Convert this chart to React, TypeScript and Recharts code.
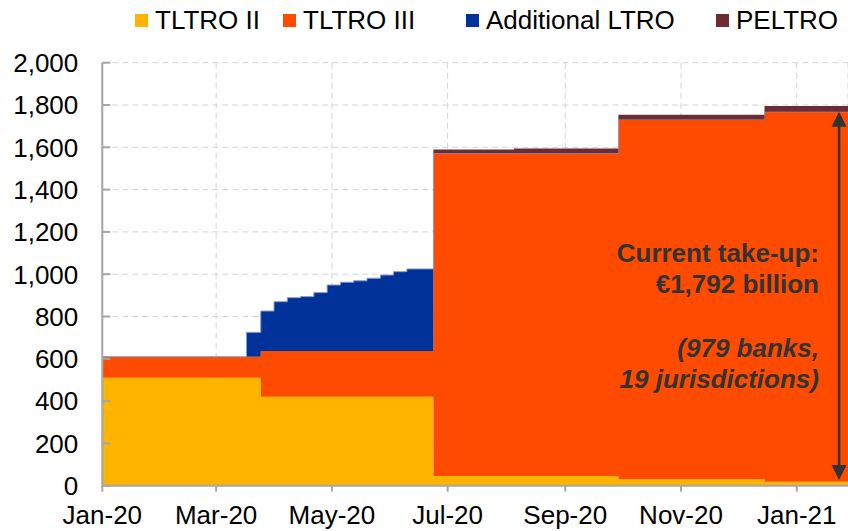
import React from 'react';
import { AreaChart, Area, XAxis, YAxis, CartesianGrid, Legend, ReferenceLine, ReferenceDot } from 'recharts';

// Day offsets from 1 Jan 2020 at which the outstanding amounts change (last entry = end of chart)
const changeDays = [0, 76, 83.5, 90.5, 97.5, 104.5, 111.5, 118.5, 125.5, 132.5, 139.5, 146.5, 153.5, 160.5, 174.5, 217, 272, 349, 393];
// EUR billion outstanding from each change day onward
const tltro2 = [510, 510, 421, 421, 421, 421, 421, 421, 421, 421, 421, 421, 421, 421, 46, 46, 30, 19, 19];
const tltro3 = [100, 100, 216, 216, 216, 216, 216, 216, 216, 216, 216, 216, 216, 216, 1526, 1526, 1702, 1749, 1749];
const additionalLtro = [0, 115, 189, 233, 252, 257, 276, 312, 325, 332, 344, 359, 375, 388, 0, 0, 0, 0, 0];
const peltro = [0, 0, 0, 0, 0, 0, 0, 0, 0, 0, 0, 0, 0, 0, 18, 22, 22, 27, 27];

const tickDays = [0, 60, 121, 182, 244, 305, 366];
const tickLabels = ['Jan-20', 'Mar-20', 'May-20', 'Jul-20', 'Sep-20', 'Nov-20', 'Jan-21'];
const yTicks = [0, 200, 400, 600, 800, 1000, 1200, 1400, 1600, 1800, 2000];

const seriesNames = ['TLTRO II', 'TLTRO III', 'Additional LTRO', 'PELTRO'];
const seriesColors = ['#FFB400', '#FF4B00', '#003299', '#6B2D33'];

// annotation anchors (data coordinates)
const arrowDay = 388.3;
const arrowTop = 1768;
const arrowBottom = 27;
const noteDay = 377.7;
const noteValue = 1059;
const noteLines = ['Current take-up:', '€1,792 billion', '(979 banks,', '19 jurisdictions)'];

const data = changeDays.map((d, i) => ({
  day: d,
  t2: tltro2[i],
  t3: tltro3[i],
  add: additionalLtro[i],
  pel: peltro[i],
}));

const FONT = '"Liberation Sans", Arial, sans-serif';
const FS = 26;

const fmt = (v: number) => v.toLocaleString('en-US');

const YTick = (props: any) => {
  const { x, y, payload } = props;
  return (
    <g>
      <line x1={x + 24} x2={x + 32} y1={y} y2={y} stroke="#a6a6a6" strokeWidth={2} />
      <text x={x} y={y} dy="0.36em" textAnchor="end" fontFamily={FONT} fontSize={FS} fill="#000">
        {fmt(payload.value)}
      </text>
    </g>
  );
};

const legendLeft = [135, 283, 466, 716];

const LegendContent = () => (
  <div style={{ position: 'relative', width: 848, height: 0 }}>
    {seriesNames.map((name, i) => (
      <div key={i} style={{ position: 'absolute', left: legendLeft[i], top: 7, height: 26, display: 'flex', alignItems: 'center', whiteSpace: 'nowrap' }}>
        <span style={{ display: 'inline-block', width: 13, height: 13, background: seriesColors[i], marginRight: 7 }} />
        <span style={{ fontFamily: FONT, fontSize: FS, color: '#000', lineHeight: '26px' }}>{name}</span>
      </div>
    ))}
  </div>
);

const ArrowShape = (p: any) => {
  const { x1, y1, x2, y2 } = p;
  const hw = 7.5;
  const hl = 15;
  const top = Math.min(y1, y2);
  const bot = Math.max(y1, y2);
  return (
    <g>
      <line x1={x1} x2={x2} y1={top + hl - 1} y2={bot - hl + 1} stroke="#333" strokeWidth={2.5} />
      <polygon points={`${x1},${top} ${x1 - hw},${top + hl} ${x1 + hw},${top + hl}`} fill="#333" />
      <polygon points={`${x1},${bot} ${x1 - hw},${bot - hl} ${x1 + hw},${bot - hl}`} fill="#333" />
    </g>
  );
};

const NoteShape = (p: any) => {
  const { cx, cy } = p;
  const offsets = [0, 31.3, 95, 126.3];
  return (
    <g>
      {noteLines.map((t, i) => (
        <text key={i} x={cx} y={cy + offsets[i]} textAnchor="end" fontFamily={FONT} fontSize={FS} fontWeight="bold" fontStyle={i >= 2 ? 'italic' : 'normal'} fill="#333">
          {t}
        </text>
      ))}
    </g>
  );
};

export default function App() {
  return (
    <div style={{ position: 'absolute', left: 0, top: 0, width: 848, height: 531, background: '#fff' }}>
      <AreaChart width={848} height={531} data={data} margin={{ top: 62.7, right: 0, bottom: 5.3, left: 42.3 }}>
        <CartesianGrid stroke="#d4d4d4" strokeDasharray="6 4" />
        <XAxis
          type="number"
          dataKey="day"
          domain={[0, 393]}
          ticks={tickDays}
          tickFormatter={(v: number) => tickLabels[tickDays.indexOf(v)]}
          height={40}
          allowDataOverflow
          interval={0}
          stroke="#a6a6a6"
          strokeWidth={2}
          tickSize={6}
          tickMargin={14}
          tick={{ fontFamily: FONT, fontSize: FS, fill: '#000' }}
        />
        <YAxis
          type="number"
          domain={[0, 2000]}
          ticks={yTicks}
          interval={0}
          width={60}
          stroke="#a6a6a6"
          strokeWidth={2}
          tickLine={false}
          tickSize={0}
          tickMargin={24}
          tick={<YTick />}
        />
        <Legend verticalAlign="top" align="left" wrapperStyle={{ top: 0, left: 0, width: 848, height: 0 }} content={<LegendContent />} />
        <Area type="stepAfter" dataKey="t2" name={seriesNames[0]} stackId="1" fill={seriesColors[0]} stroke="none" fillOpacity={1} isAnimationActive={false} />
        <Area type="stepAfter" dataKey="t3" name={seriesNames[1]} stackId="1" fill={seriesColors[1]} stroke="none" fillOpacity={1} isAnimationActive={false} />
        <Area type="stepAfter" dataKey="add" name={seriesNames[2]} stackId="1" fill={seriesColors[2]} stroke="#8c9bc9" strokeWidth={1} fillOpacity={1} isAnimationActive={false} />
        <Area type="stepAfter" dataKey="pel" name={seriesNames[3]} stackId="1" fill={seriesColors[3]} stroke="none" fillOpacity={1} isAnimationActive={false} />
        <ReferenceLine segment={[{ x: arrowDay, y: arrowTop }, { x: arrowDay, y: arrowBottom }]} shape={<ArrowShape />} ifOverflow="visible" />
        <ReferenceDot x={noteDay} y={noteValue} r={0} shape={<NoteShape />} ifOverflow="visible" />
      </AreaChart>
    </div>
  );
}
